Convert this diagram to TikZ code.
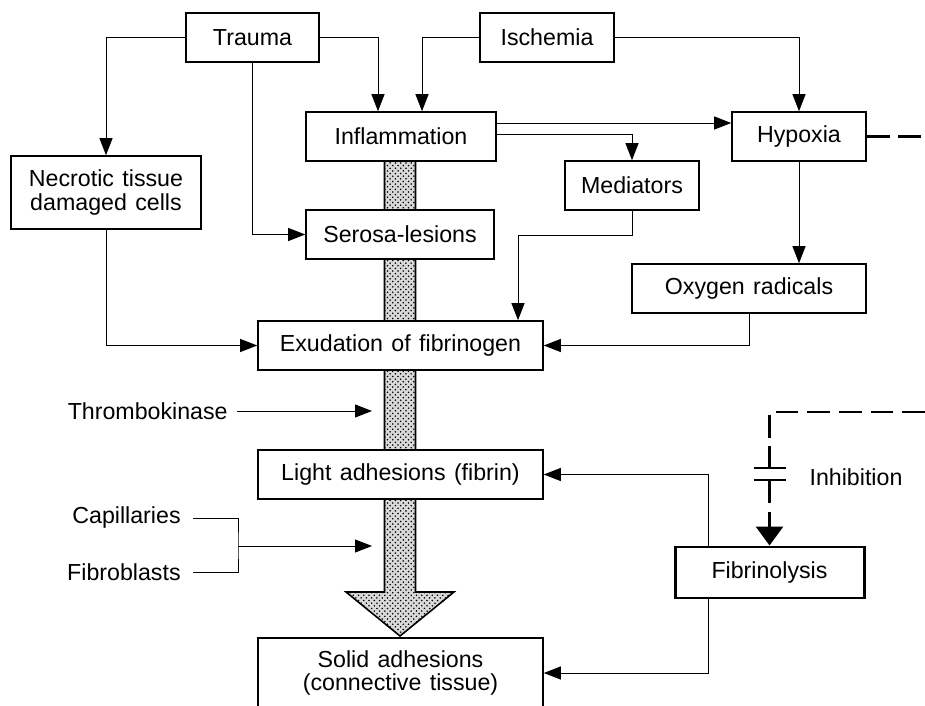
\documentclass[tikz,border=0pt]{standalone}
\usepackage{fontspec}
\setmainfont{Liberation Sans}[WordSpace=1.3]
\usetikzlibrary{arrows.meta,patterns}

\begin{document}
\begin{tikzpicture}[
  font=\fontsize{13.2}{13.6}\selectfont,
  box/.style={draw, line width=0.9pt, fill=white, minimum height=0.98cm, inner sep=0pt, align=center},
  plain/.style={inner sep=0pt},
  line/.style={line width=0.55pt},
  link/.style={line width=0.55pt, -{Triangle[length=0.34cm,width=0.26cm]}},
  inhib/.style={line width=1.7pt, dash pattern=on 13pt off 5pt},
  shaft/.style={draw, line width=0.9pt, preaction={fill=gray!30}, pattern=crosshatch dots}
]
  \useasboundingbox (0,0) rectangle (18.5,-14.12);

  % the broad arrow runs behind the middle column
  \draw[shaft] (7.69,-2.73) -- (7.69,-11.84) -- (6.92,-11.84) -- (8.0,-12.72)
    -- (9.08,-11.84) -- (8.31,-11.84) -- (8.31,-2.73) -- cycle;

  \node[box, minimum width=2.66cm] (trauma) at (5.05,-0.75) {Trauma};
  \node[box, minimum width=2.68cm] (isch) at (10.94,-0.75) {Ischemia};
  \node[box, minimum width=3.8cm] (infl) at (8.02,-2.73) {Inflammation};
  \node[box, minimum width=2.68cm] (hyp) at (15.98,-2.73) {Hypoxia};
  \node[box, minimum width=2.68cm] (med) at (12.64,-3.71) {Mediators};
  \node[box, minimum width=3.8cm, minimum height=1.46cm] (necro) at (2.12,-3.85) {Necrotic tissue\\damaged cells};
  \node[box, minimum width=3.76cm] (sero) at (8.0,-4.69) {Serosa-lesions};
  \node[box, minimum width=4.68cm] (oxy) at (14.98,-5.77) {Oxygen radicals};
  \node[box, minimum width=5.7cm] (exud) at (8.01,-6.91) {Exudation of fibrinogen};
  \node[box, minimum width=5.7cm] (light) at (8.01,-9.49) {Light adhesions (fibrin)};
  \node[box, minimum width=5.7cm, minimum height=1.4cm] (solid) at (8.01,-13.46) {Solid adhesions\\(connective tissue)};
  \node[box, line width=1.7pt, minimum width=3.78cm, minimum height=1.02cm] (fib) at (15.39,-11.45) {Fibrinolysis};

  \node[plain, anchor=east] (thromb) at (4.56,-8.22) {Thrombokinase};
  \node[plain, anchor=east] (capil) at (3.62,-10.36) {Capillaries};
  \node[plain, anchor=east] (fibro) at (3.62,-11.44) {Fibroblasts};
  \node[plain] (inhtext) at (17.12,-9.54) {Inhibition};

  \coordinate (tk) at (7.44,-8.22);
  \coordinate (cf) at (7.44,-10.92);
  \coordinate (brk) at (4.76,-10.92);
  \coordinate (hypout) at (18.5,-2.73);
  \coordinate (inhin) at (18.5,-8.24);
  \coordinate (barA) at (15.39,-9.36);
  \coordinate (barB) at (15.39,-9.60);

  \draw[link] (trauma.west) -| (necro.north);
  \draw[link] (trauma.east) -| ([xshift=-0.46cm]infl.north);
  \draw[link] (trauma.south) |- (sero.west);
  \draw[link] (isch.west) -| ([xshift=0.42cm]infl.north);
  \draw[link] (isch.east) -| (hyp.north);
  \draw[link] ([yshift=0.27cm]infl.east) -- ([yshift=0.27cm]hyp.west);
  \draw[link] ([yshift=0.04cm]infl.east) -| (med.north);
  \draw[link] (med.south) -- ++(0,-0.5) -| ([xshift=2.35cm]exud.north);
  \draw[link] (hyp.south) -- (hyp.south |- oxy.north);
  \draw[link] (oxy.south) |- (exud.east);
  \draw[link] (necro.south) |- (exud.west);
  \draw[link] ([xshift=-1.23cm]fib.north) |- (light.east);
  \draw[link] ([xshift=-1.23cm]fib.south) |- (solid.east);

  \draw[link] ([xshift=0.18cm]thromb.east) -- (tk);
  \draw[line] ([xshift=0.24cm]capil.east) -| (brk) |- ([xshift=0.24cm]fibro.east);
  \draw[link] (brk) -- (cf);

  % oxygen lack blocks fibrinolysis
  \draw[inhib] (hyp.east) -- (hypout);
  \draw[inhib] (inhin) -| (barA);
  \draw[inhib, -{Triangle[length=0.38cm,width=0.54cm]}] (barB) -- (fib.north);
  \draw[line width=1.7pt] ([xshift=-0.32cm]barA) -- ([xshift=0.32cm]barA);
  \draw[line width=1.7pt] ([xshift=-0.32cm]barB) -- ([xshift=0.32cm]barB);
\end{tikzpicture}
\end{document}
